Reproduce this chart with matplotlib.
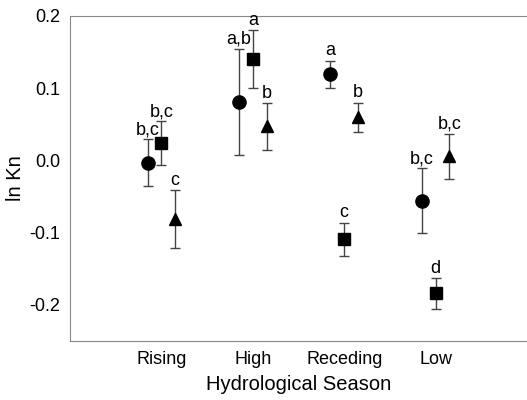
import numpy as np
import matplotlib
matplotlib.use("Agg")
from matplotlib import pyplot as plt

plt.rcParams['font.family'] = ['Liberation Sans', 'DejaVu Sans']

seasons = ["Rising", "High", "Receding", "Low"]

# circle / square / triangle groups
circle_mean = [-0.003, 0.081, 0.119, -0.056]
circle_err = [0.032, 0.073, 0.019, 0.045]
circle_lab = ["b,c", "a,b", "a", "b,c"]

square_mean = [0.024, 0.140, -0.109, -0.184]
square_err = [0.030, 0.040, 0.023, 0.021]
square_lab = ["b,c", "a", "c", "d"]

tri_mean = [-0.081, 0.047, 0.060, 0.006]
tri_err = [0.040, 0.032, 0.020, 0.031]
tri_lab = ["c", "b", "b", "b,c"]

fig = plt.figure(figsize=(5.27, 4.0), dpi=100)
ax = fig.add_axes([70 / 527, 59 / 400, 457 / 527, 325 / 400])

x = np.arange(1, len(seasons) + 1)
groups = [
    (circle_mean, circle_err, circle_lab, "o", -0.15, 9.5),
    (square_mean, square_err, square_lab, "s", 0.0, 8.5),
    (tri_mean, tri_err, tri_lab, "^", 0.15, 9),
]
for mean, err, lab, mk, off, ms in groups:
    xs = x + off
    ax.errorbar(xs, mean, yerr=err, fmt=mk, color="black", ms=ms,
                ecolor="#444444", elinewidth=1, capsize=3.6, capthick=1)
    for xi, m, e, t in zip(xs, mean, err, lab):
        ax.annotate(t, (xi, m + e), xytext=(0, 1), textcoords="offset points",
                    ha="center", va="bottom", fontsize=13)

ax.set_xlim(0, 5)
ax.set_ylim(-0.25, 0.2)
ax.set_yticks([-0.2, -0.1, 0.0, 0.1, 0.2])
ax.set_yticklabels(["-0.2", "-0.1", "0.0", "0.1", "0.2"])
ax.set_xticks(x)
ax.set_xticklabels(seasons)
ax.tick_params(length=0, labelsize=13, pad=7)
ax.tick_params(axis="x", pad=7)

for s in ["left", "bottom", "top"]:
    ax.spines[s].set_color("#888888")
ax.spines["right"].set_visible(False)

ax.set_xlabel("Hydrological Season", fontsize=14.5, labelpad=5)
ax.set_ylabel("ln Kn", fontsize=14.5, labelpad=3)

fig.savefig("out.png", dpi=100)
